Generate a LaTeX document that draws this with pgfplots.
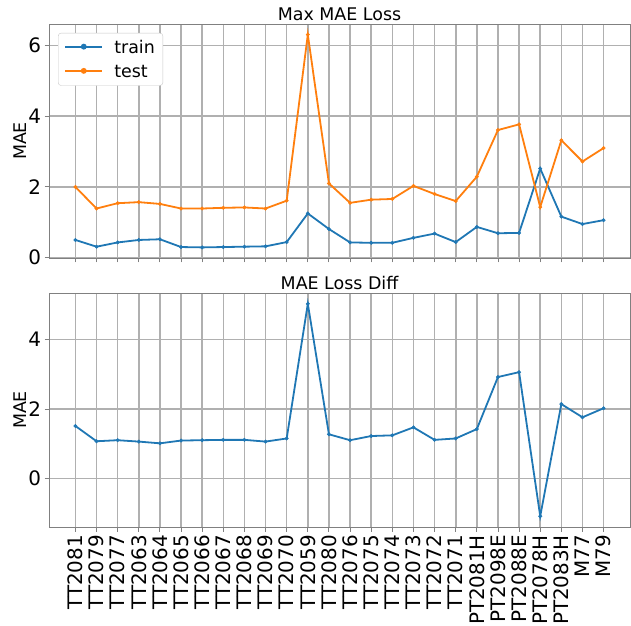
\documentclass[border=0pt]{standalone}
\usepackage{fontspec}
\setmainfont{DejaVu Sans}
\usepackage{pgfplots}
\pgfplotsset{compat=1.18}

\definecolor{trainc}{HTML}{1F77B4}
\definecolor{testc}{HTML}{FF7F0E}
\definecolor{gridc}{HTML}{B0B0B0}
\definecolor{framec}{HTML}{808080}

% per-sample MAE values, categories plotted at 0..25
\pgfplotstableread{
x train test diff
0  0.50 2.00 1.51
1  0.31 1.39 1.07
2  0.43 1.54 1.10
3  0.50 1.57 1.06
4  0.52 1.52 1.01
5  0.30 1.39 1.09
6  0.29 1.39 1.10
7  0.30 1.41 1.11
8  0.31 1.42 1.11
9  0.32 1.39 1.06
10 0.44 1.61 1.15
11 1.25 6.31 5.03
12 0.81 2.10 1.27
13 0.43 1.55 1.10
14 0.42 1.64 1.22
15 0.42 1.66 1.24
16 0.56 2.03 1.47
17 0.68 1.80 1.11
18 0.44 1.60 1.15
19 0.87 2.29 1.42
20 0.69 3.61 2.92
21 0.70 3.77 3.06
22 2.52 1.43 -1.09
23 1.16 3.32 2.14
24 0.95 2.72 1.76
25 1.06 3.10 2.02
}\maedata

\pgfplotsset{
  panel/.style={
    scale only axis, width=581bp, height=234bp,
    xmin=-1.25, xmax=26.25,
    xtick={0,...,25},
    grid=major,
    grid style={gridc, line width=1.6bp},
    axis line style={framec, line width=0.9bp},
    tick align=outside, tick pos=left,
    major tick length=4.5bp,
    tick style={framec, line width=0.9bp},
    ticklabel style={font=\fontsize{20}{24}\selectfont},
    /pgf/number format/assume math mode=true,
    ylabel={MAE},
    ylabel style={font=\fontsize{17.5}{20}\selectfont, yshift=-5bp},
    title style={font=\fontsize{17.5}{20}\selectfont, yshift=-6bp},
    legend image code/.code={
      \draw[line width=2.1bp] (0bp,0.8bp) -- (37bp,0.8bp);
      \fill (18.5bp,0.8bp) circle[radius=2bp];
    },
  },
  series/.style={#1, line width=1.8bp, mark=*, mark size=1.7bp,
    mark options={solid, line width=0.5bp}},
}

\begin{document}
\begin{tikzpicture}
\useasboundingbox (0,0) rectangle (631bp,626bp);

\begin{axis}[panel,
  at={(49bp,368bp)}, anchor=south west,
  ymin=-0.01, ymax=6.61,
  ytick={0,2,4,6},
  xticklabels={},
  title={Max MAE Loss},
  legend style={at={(0.0155,0.962)}, anchor=north west,
    draw=gridc!70, fill=white,
    rounded corners=3bp, font=\fontsize{17.5}{21}\selectfont,
    row sep=6bp, inner xsep=6bp, inner ysep=5bp,
    /tikz/every odd column/.style={column sep=9bp}},
  legend cell align=left,
]
\addplot[series=trainc] table[x=x, y=train] {\maedata};
\addlegendentry{train}
\addplot[series=testc] table[x=x, y=test] {\maedata};
\addlegendentry{test}
\end{axis}

\begin{axis}[panel,
  at={(49bp,99bp)}, anchor=south west,
  ymin=-1.40, ymax=5.34,
  ytick={0,2,4},
  xticklabels={TT2081,TT2079,TT2077,TT2063,TT2064,TT2065,TT2066,TT2067,
    TT2068,TT2069,TT2070,TT2059,TT2080,TT2076,TT2075,TT2074,TT2073,
    TT2072,TT2071,PT2081H,PT2098E,PT2088E,PT2078H,PT2083H,M77,M79},
  xticklabel style={rotate=90, anchor=east},
  title={MAE Loss Diff},
]
\addplot[series=trainc] table[x=x, y=diff] {\maedata};
\end{axis}
\end{tikzpicture}
\end{document}
